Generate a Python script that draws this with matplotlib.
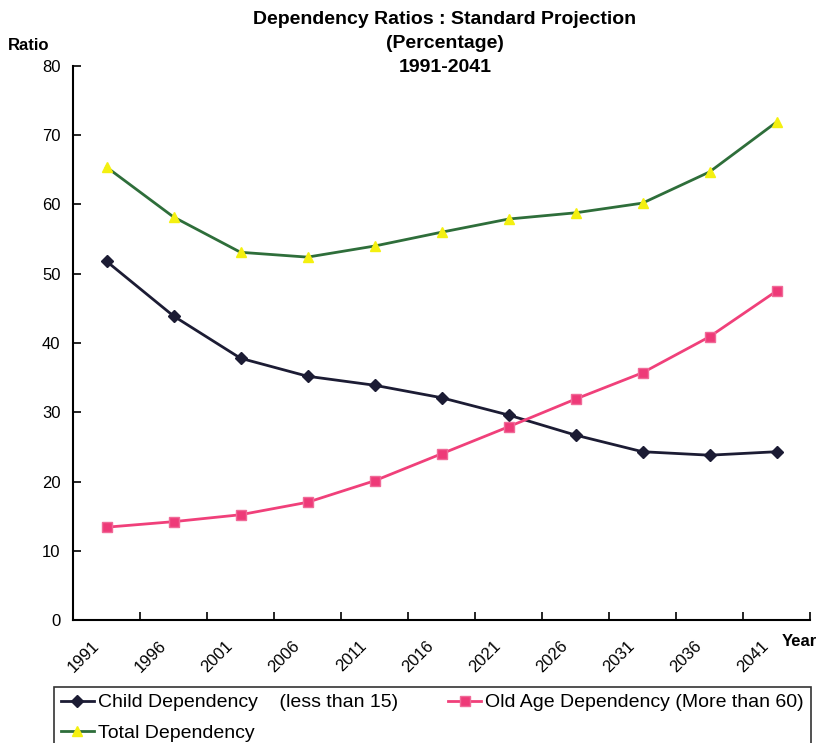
import matplotlib
matplotlib.use("Agg")
import matplotlib.pyplot as plt

years = ["1991", "1996", "2001", "2006", "2011", "2016",
         "2021", "2026", "2031", "2036", "2041"]
child_dep = [51.8, 43.9, 37.8, 35.2, 33.9, 32.1, 29.6, 26.7, 24.3, 23.8, 24.3]
old_dep = [13.4, 14.2, 15.2, 17.0, 20.1, 24.0, 27.9, 31.9, 35.7, 40.9, 47.5]
total_dep = [65.4, 58.2, 53.1, 52.4, 54.0, 56.0, 57.9, 58.8, 60.2, 64.7, 71.9]

plt.rcParams['font.family'] = ['Liberation Sans', 'DejaVu Sans']

W, H = 817, 743
fig = plt.figure(figsize=(W / 100, H / 100), dpi=100)
ax = fig.add_axes([73 / W, 1 - 620 / H, 737 / W, 554 / H])

x = [i + 0.5 for i in range(len(years))]
l1, = ax.plot(x, child_dep, color="#1c1c34", lw=2, marker="D", ms=6,
              label="Child Dependency    (less than 15)")
l2, = ax.plot(x, old_dep, color="#f0407a", lw=2, marker="s", ms=7,
              mfc="#ee3a78", mec="#f06a98", label="Old Age Dependency (More than 60)")
l3, = ax.plot(x, total_dep, color="#2e6e3a", lw=2, marker="^", ms=7,
              mfc="#f4f010", mec="#f4f010", label="Total Dependency")

ax.set_xlim(0, len(years))
ax.set_ylim(0, 80)
ax.set_yticks(range(0, 81, 10))
ax.set_xticks(range(len(years) + 1))
ax.set_xticklabels([])
for xi, yr in zip(x, years):
    ax.text(xi - 0.07, -2.6, yr, rotation=45, ha="right", va="top", fontsize=12)
ax.tick_params(direction="in", length=6, width=1.2, labelsize=12)
ax.tick_params(axis="y", pad=9)
for s in ["top", "right"]:
    ax.spines[s].set_visible(False)
for s in ["left", "bottom"]:
    ax.spines[s].set_linewidth(1.5)

fig.text(445 / W, 1 - 11 / H, "Dependency Ratios : Standard Projection\n(Percentage)\n1991-2041",
         ha="center", va="top", fontsize=14, fontweight="bold", linespacing=1.55)
fig.text(8 / W, 1 - 45 / H, "Ratio", ha="left", va="center", fontsize=12, fontweight="bold")
fig.text(782 / W, 1 - 641 / H, "Year", ha="left", va="center", fontsize=12, fontweight="bold")

leg = fig.legend([l1, l3, l2], [l1.get_label(), l3.get_label(), l2.get_label()],
                 ncol=2, loc="upper left", bbox_to_anchor=(54 / W, 1 - 687 / H),
                 fontsize=14, frameon=True, fancybox=False, edgecolor="black",
                 handlelength=1.7, handletextpad=0.2, columnspacing=2.6,
                 borderpad=0.35, labelspacing=0.65, borderaxespad=0)
leg.get_frame().set_linewidth(1.2)

fig.savefig("out.png", dpi=100)
